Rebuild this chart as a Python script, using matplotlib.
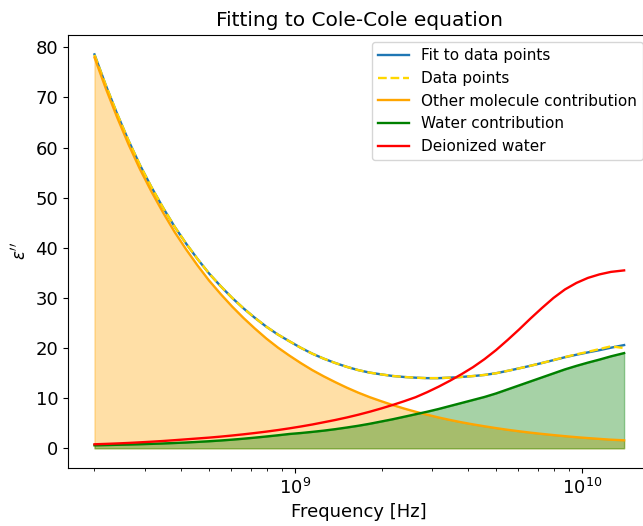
import matplotlib
matplotlib.use("Agg")
import matplotlib.pyplot as plt

# Frequencies [Hz]
freq = [2.00e8, 2.19e8, 2.40e8, 2.63e8, 2.88e8, 3.16e8, 3.47e8, 3.80e8, 4.17e8, 4.57e8,
        5.01e8, 5.50e8, 6.03e8, 6.61e8, 7.24e8, 7.94e8, 8.71e8, 9.55e8, 1.047e9, 1.148e9,
        1.259e9, 1.380e9, 1.514e9, 1.660e9, 1.820e9, 1.995e9, 2.188e9, 2.399e9, 2.630e9, 2.884e9,
        3.162e9, 3.467e9, 3.802e9, 4.169e9, 4.571e9, 5.012e9, 5.495e9, 6.026e9, 6.607e9, 7.244e9,
        7.943e9, 8.710e9, 9.550e9, 1.047e10, 1.148e10, 1.259e10, 1.40e10]

other_molecule = [78.0, 71.8, 66.0, 60.6, 55.7, 51.2, 47.0, 43.2, 39.7, 36.5,
                  33.5, 30.8, 28.3, 26.0, 23.9, 21.9, 20.1, 18.5, 17.0, 15.6,
                  14.35, 13.2, 12.1, 11.1, 10.2, 9.4, 8.63, 7.93, 7.29, 6.70,
                  6.15, 5.65, 5.19, 4.77, 4.39, 4.03, 3.70, 3.40, 3.12, 2.87,
                  2.64, 2.42, 2.22, 2.04, 1.88, 1.72, 1.6]

water = [0.6, 0.65, 0.7, 0.76, 0.82, 0.89, 0.97, 1.06, 1.16, 1.28,
         1.41, 1.56, 1.73, 1.92, 2.13, 2.36, 2.60, 2.86, 3.05, 3.28,
         3.53, 3.82, 4.15, 4.5, 4.9, 5.35, 5.8, 6.3, 6.8, 7.3,
         7.85, 8.45, 9.05, 9.65, 10.25, 10.95, 11.75, 12.55, 13.35, 14.15,
         14.95, 15.75, 16.45, 17.1, 17.7, 18.35, 19.0]

fit = [78.6, 72.45, 66.7, 61.36, 56.52, 52.09, 47.97, 44.26, 40.86, 37.78,
       34.91, 32.36, 30.03, 27.92, 26.03, 24.26, 22.7, 21.36, 20.05, 18.88,
       17.88, 17.02, 16.25, 15.6, 15.1, 14.75, 14.43, 14.23, 14.09, 14.0,
       14.0, 14.1, 14.24, 14.42, 14.64, 14.98, 15.45, 15.95, 16.47, 17.02,
       17.59, 18.17, 18.67, 19.14, 19.58, 20.07, 20.6]

data_points = [78.5, 72.45, 66.7, 61.36, 56.52, 52.09, 47.97, 44.26, 40.86, 37.78,
               34.91, 32.36, 30.03, 27.92, 26.03, 24.26, 22.7, 21.36, 20.05, 18.88,
               17.88, 17.02, 16.25, 15.6, 15.1, 14.75, 14.43, 14.23, 14.09, 14.0,
               14.0, 14.1, 14.24, 14.42, 14.64, 14.98, 15.45, 15.95, 16.47, 17.02,
               17.6, 18.2, 18.75, 19.25, 19.8, 20.35, 20.0]

deionized = [0.8, 0.88, 0.97, 1.07, 1.19, 1.32, 1.46, 1.62, 1.79, 1.96,
             2.13, 2.33, 2.55, 2.79, 3.05, 3.33, 3.64, 3.98, 4.35, 4.75,
             5.2, 5.65, 6.15, 6.7, 7.3, 7.95, 8.65, 9.4, 10.2, 11.2,
             12.3, 13.5, 14.8, 16.2, 17.8, 19.6, 21.6, 23.7, 25.9, 28.0,
             30.0, 31.7, 33.0, 34.0, 34.7, 35.2, 35.5]

fig = plt.figure(figsize=(6.43, 5.26), dpi=100)
ax = fig.add_axes([68/643, 58/526, 582.6/643, 433.3/526])

ax.plot(freq, fit, color="tab:blue", lw=1.7, label="Fit to data points")
ax.plot(freq, data_points, color="gold", ls="--", lw=1.7, label="Data points")
ax.plot(freq, other_molecule, color="orange", lw=1.7, label="Other molecule contribution")
ax.fill_between(freq, 0, other_molecule, color="orange", alpha=0.35)
ax.plot(freq, water, color="green", lw=1.7, label="Water contribution")
ax.fill_between(freq, 0, water, color="green", alpha=0.35)
ax.plot(freq, deionized, color="red", lw=1.7, label="Deionized water")

ax.set_xscale("log")
ax.set_title("Fitting to Cole-Cole equation", fontsize=14.5)
ax.set_xlabel("Frequency [Hz]", fontsize=13)
ax.set_ylabel(r"$\epsilon''$", fontsize=12)
ax.tick_params(axis="both", which="major", labelsize=13)
ax.legend(loc="upper right", fontsize=11)

fig.savefig("out.png", dpi=100)
